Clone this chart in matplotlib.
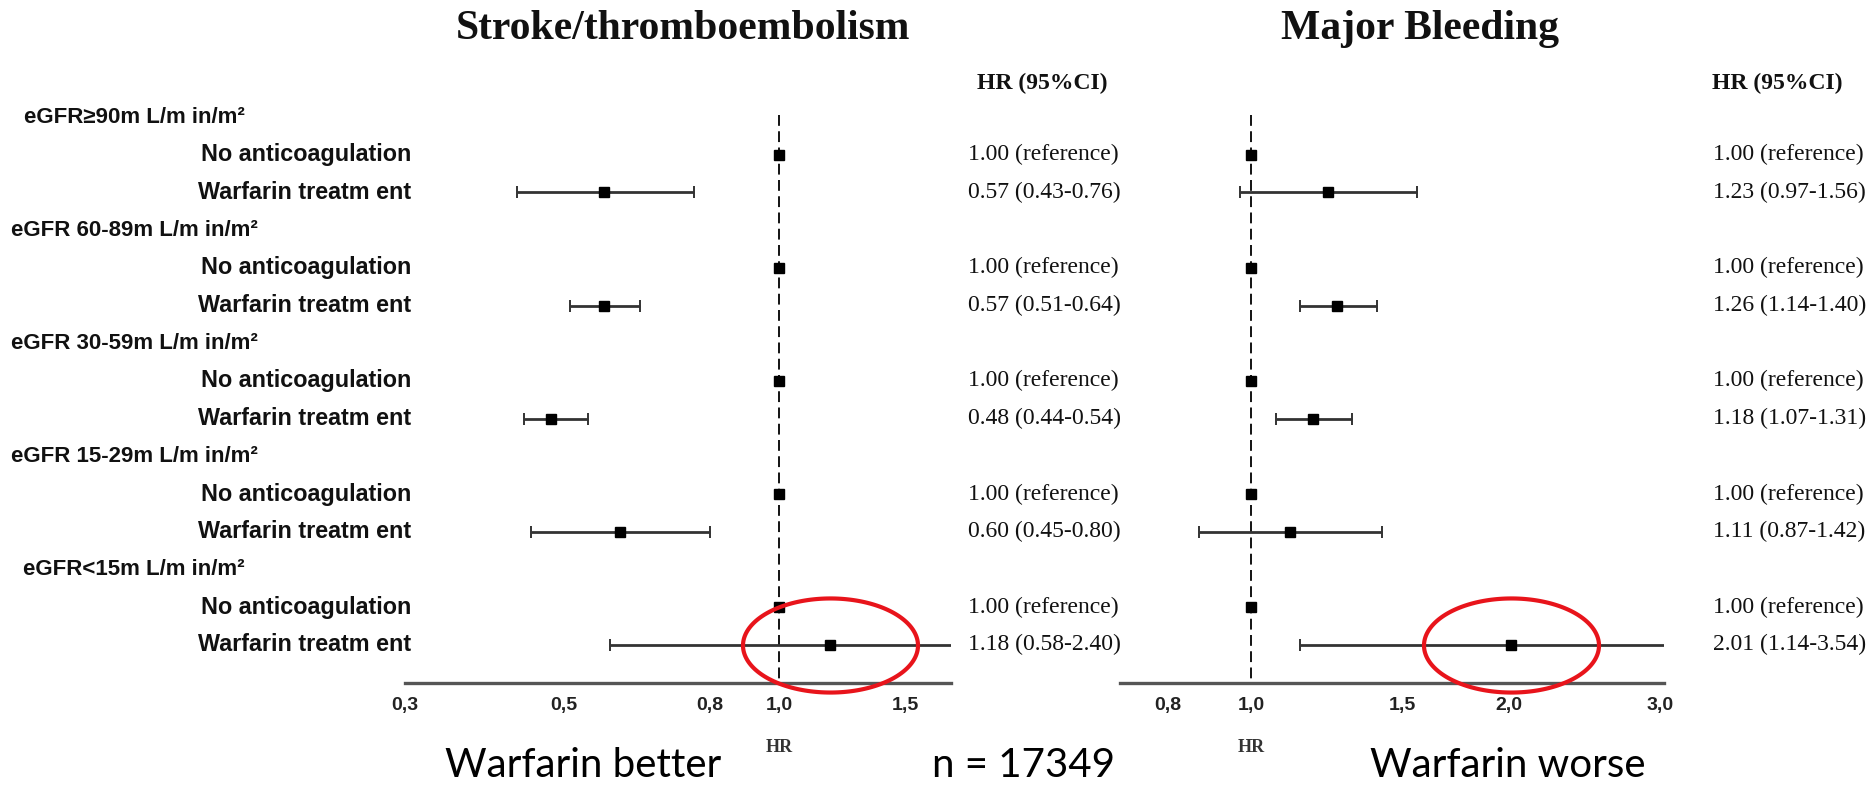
import matplotlib
matplotlib.use("Agg")
import matplotlib.pyplot as plt
import numpy as np
from matplotlib.path import Path
from matplotlib.transforms import blended_transform_factory
from matplotlib.ticker import NullLocator

# ---------------- data ----------------
groups = ["eGFR≥90m L/m in/m²", "eGFR 60-89m L/m in/m²", "eGFR 30-59m L/m in/m²",
          "eGFR 15-29m L/m in/m²", "eGFR<15m L/m in/m²"]
arms = ["No anticoagulation", "Warfarin treatm ent"]

stroke_hr = [1.00, 0.57, 1.00, 0.57, 1.00, 0.48, 1.00, 0.60, 1.00, 1.18]
stroke_lo = [1.00, 0.43, 1.00, 0.51, 1.00, 0.44, 1.00, 0.45, 1.00, 0.58]
stroke_hi = [1.00, 0.76, 1.00, 0.64, 1.00, 0.54, 1.00, 0.80, 1.00, 2.40]

bleed_hr = [1.00, 1.23, 1.00, 1.26, 1.00, 1.18, 1.00, 1.11, 1.00, 2.01]
bleed_lo = [1.00, 0.97, 1.00, 1.14, 1.00, 1.07, 1.00, 0.87, 1.00, 1.14]
bleed_hi = [1.00, 1.56, 1.00, 1.40, 1.00, 1.31, 1.00, 1.42, 1.00, 3.54]

stroke_ticks = [0.3, 0.5, 0.8, 1.0, 1.5]
stroke_ticklabels = ["0,3", "0,5", "0,8", "1,0", "1,5"]
bleed_ticks = [0.8, 1.0, 1.5, 2.0, 3.0]
bleed_ticklabels = ["0,8", "1,0", "1,5", "2,0", "3,0"]

titles = ["Stroke/thromboembolism", "Major Bleeding"]
col_header = "HR (95%CI)"
n_text = "n = 17349"
better_text = "Warfarin better"
worse_text = "Warfarin worse"

# ---------------- layout ----------------
W, H = 1875, 785
fig = plt.figure(figsize=(W / 100, H / 100), dpi=100)
fig.patch.set_facecolor("white")

ROW0, DY = 117.0, 37.7          # pixel y of row index 0, row spacing
AX_TOP, AX_BOT = 100, 683


def px_to_i(ypx):
    return (ypx - ROW0) / DY


def add_forest_axes(x0, x1):
    ax = fig.add_axes([x0 / W, 1 - AX_BOT / H, (x1 - x0) / W, (AX_BOT - AX_TOP) / H])
    ax.set_facecolor("none")
    ax.set_xscale("log")
    ax.set_ylim(px_to_i(AX_BOT), px_to_i(AX_TOP))
    for s in ["top", "left", "right"]:
        ax.spines[s].set_visible(False)
    ax.spines["bottom"].set_color("#555555")
    ax.spines["bottom"].set_linewidth(2.4)
    ax.set_yticks([])
    ax.xaxis.set_minor_locator(NullLocator())
    ax.tick_params(axis="x", length=0, pad=10)
    return ax


ax1 = add_forest_axes(405, 951)
ax1.set_xlim(0.3, 1.74)
ax2 = add_forest_axes(1120, 1664)
ax2.set_xlim(0.703, 3.03)

sans = "Liberation Sans"
serif = "Liberation Serif"

for ax, ticks, labels in [(ax1, stroke_ticks, stroke_ticklabels), (ax2, bleed_ticks, bleed_ticklabels)]:
    ax.set_xticks(ticks)
    ax.set_xticklabels(labels, fontfamily=sans, fontweight="bold", fontsize=14, color="#222222")
    ax.xaxis.set_minor_locator(NullLocator())

# row indices: header at 3g, arms at 3g+1, 3g+2
arm_rows = []
for g in range(len(groups)):
    arm_rows += [3 * g + 1, 3 * g + 2]
arm_rows = np.array(arm_rows, dtype=float)

# ellipse marker path
t = np.linspace(0, 2 * np.pi, 200)
ell = Path(np.column_stack([np.cos(t) * 173 / 2, np.sin(t) * 93 / 2]))


def draw_forest(ax, hr, lo, hi):
    hr, lo, hi = map(np.asarray, (hr, lo, hi))
    top = px_to_i(115)
    ax.plot([1.0, 1.0], [top, px_to_i(AX_BOT)], color="black", lw=1.3,
            dashes=(6, 3), zorder=1)
    has_ci = hi > lo
    ax.errorbar(hr[has_ci], arm_rows[has_ci],
                xerr=[hr[has_ci] - lo[has_ci], hi[has_ci] - hr[has_ci]],
                fmt="none", ecolor="#333333", elinewidth=2.0, capsize=4.5,
                capthick=1.4, zorder=2)
    ax.plot(hr, arm_rows, ls="none", marker="s", ms=7, color="black", zorder=3)
    # highlight last row (eGFR<15, warfarin)
    ax.plot([hr[-1]], [arm_rows[-1]], ls="none", marker=ell, ms=175 * 0.72,
            mfc="none", mec="#e8141b", mew=3.0, clip_on=False, zorder=4)


draw_forest(ax1, stroke_hr, stroke_lo, stroke_hi)
draw_forest(ax2, bleed_hr, bleed_lo, bleed_hi)


def fmt(h, l, u):
    if l == u:
        return f"{h:.2f} (reference)"
    return f"{h:.2f} ({l:.2f}-{u:.2f})"


tr = blended_transform_factory(fig.transFigure, ax1.transData)

# group headers and arm labels
for g, name in enumerate(groups):
    fig.text(134 / W, 3 * g, name, transform=tr, ha="center", va="center",
             fontfamily=sans, fontweight="bold", fontsize=16, color="#111111")
    for k, arm in enumerate(arms):
        fig.text(411 / W, 3 * g + 1 + k, arm, transform=tr, ha="right", va="center",
                 fontfamily=sans, fontweight="bold", fontsize=16.8, color="#111111")

# value columns
for xcol, hr, lo, hi in [(968, stroke_hr, stroke_lo, stroke_hi), (1713, bleed_hr, bleed_lo, bleed_hi)]:
    for r, h, l, u in zip(arm_rows, hr, lo, hi):
        fig.text(xcol / W, r, fmt(h, l, u), transform=tr, ha="left", va="center",
                 fontfamily=serif, fontsize=17, color="#111111")

# column headers
for xcol in [977, 1712]:
    fig.text(xcol / W, 1 - 83 / H, col_header, ha="left", va="center",
             fontfamily=serif, fontweight="bold", fontsize=17, color="#111111")

# titles
for xc, ttl in zip([683, 1420], titles):
    fig.text(xc / W, 1 - 29 / H, ttl, ha="center", va="center",
             fontfamily=serif, fontweight="bold", fontsize=30, color="#111111")

# HR axis labels under the 1.0 line
for ax in (ax1, ax2):
    trx = blended_transform_factory(ax.transData, fig.transFigure)
    ax.text(1.0, 1 - 748 / H, "HR", transform=trx, ha="center", va="center",
            fontfamily=serif, fontweight="bold", fontsize=13, color="#333333")

# bottom annotations
bottom_font = ["Lato", "DejaVu Sans"]
for xc, txt in [(583, better_text), (1024, n_text), (1508, worse_text)]:
    fig.text(xc / W, 1 - 777 / H, txt, ha="center", va="baseline",
             fontfamily=bottom_font, fontsize=29, color="black")

fig.savefig("out.png", dpi=100, facecolor="white")
